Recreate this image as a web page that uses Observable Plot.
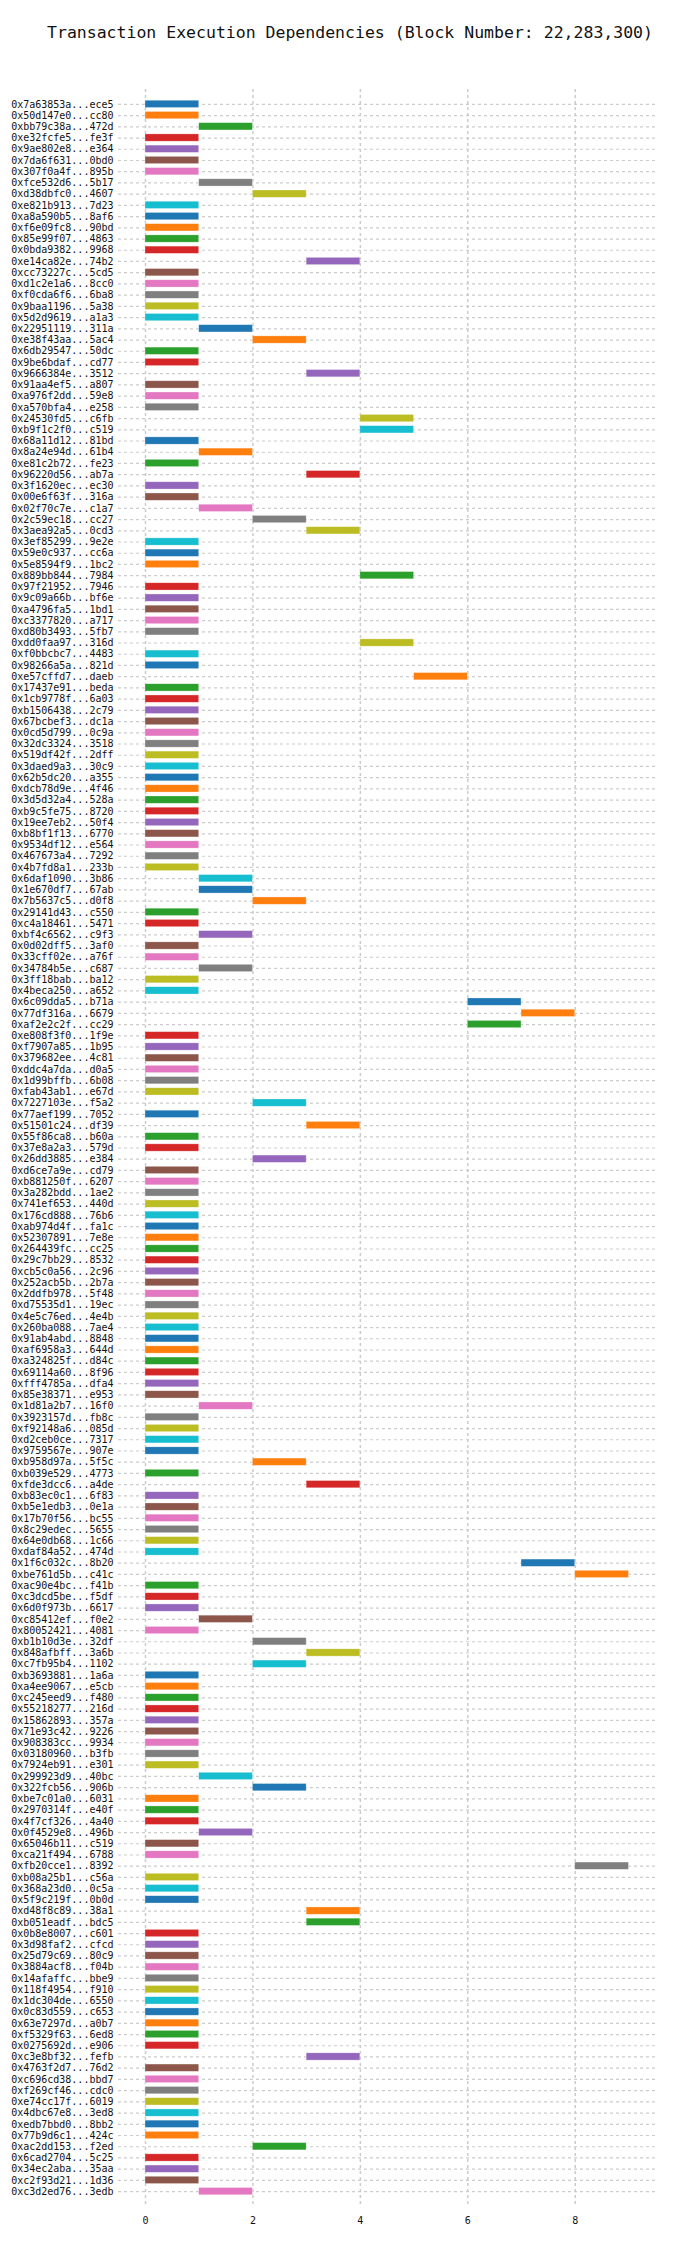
<!DOCTYPE html>
<html>
<head>
<meta charset="utf-8">
<script src="https://cdn.jsdelivr.net/npm/d3@7"></script>
<script src="https://cdn.jsdelivr.net/npm/@observablehq/plot@0.6"></script>
<style>
  body { margin: 0; background: #fff; }
  #title { height: 60px; line-height: 66px; text-align: center; font-family: "DejaVu Sans Mono", monospace; font-size: 16.5px; color: #111; }
</style>
</head>
<body>
<div id="title">Transaction Execution Dependencies (Block Number: 22,283,300)</div>
<div id="chart"></div>
<script>
// transaction hashes, top to bottom
const txs = [
  "0x7a63853a...ece5","0x50d147e0...cc80","0xbb79c38a...472d","0xe32fcfe5...fe3f","0x9ae802e8...e364","0x7da6f631...0bd0","0x307f0a4f...895b","0xfce532d6...5b17","0xd38dbfc0...4607","0xe821b913...7d23","0xa8a590b5...8af6","0xf6e09fc8...90bd","0x85e99f07...4863","0x0bda9382...9968",
  "0xe14ca82e...74b2","0xcc73227c...5cd5","0xd1c2e1a6...8cc0","0xf0cda6f6...6ba8","0x9baa1196...5a38","0x5d2d9619...a1a3","0x22951119...311a","0xe38f43aa...5ac4","0x6db29547...50dc","0x9be6bdaf...cd77","0x9666384e...3512","0x91aa4ef5...a807","0xa976f2dd...59e8","0xa570bfa4...e258","0x24530fd5...c6fb","0xb9f1c2f0...c519",
  "0x68a11d12...81bd","0x8a24e94d...61b4","0xe81c2b72...fe23","0x96220d56...ab7a","0x3f1620ec...ec30","0x00e6f63f...316a","0x02f70c7e...c1a7","0x2c59ec18...cc27","0x3aea92a5...0cd3","0x3ef85299...9e2e","0x59e0c937...cc6a","0x5e8594f9...1bc2","0x889bb844...7984","0x97f21952...7946","0x9c09a66b...bf6e","0xa4796fa5...1bd1","0xc3377820...a717",
  "0xd80b3493...5fb7","0xdd0faa97...316d","0xf0bbcbc7...4483","0x98266a5a...821d","0xe57cffd7...daeb","0x17437e91...beda","0x1cb9778f...6a03","0xb1506438...2c79","0x67bcbef3...dc1a","0x0cd5d799...0c9a","0x32dc3324...3518","0x519df42f...2dff","0x3daed9a3...30c9","0x62b5dc20...a355","0xdcb78d9e...4f46","0x3d5d32a4...528a",
  "0xb9c5fe75...8720","0x19ee7eb2...50f4","0xb8bf1f13...6770","0x9534df12...e564","0x467673a4...7292","0x4b7fd8a1...233b","0x6daf1090...3b86","0x1e670df7...67ab","0x7b5637c5...d0f8","0x29141d43...c550","0xc4a18461...5471","0xbf4c6562...c9f3","0x0d02dff5...3af0","0x33cff02e...a76f","0x34784b5e...c687","0x3ff18bab...ba12",
  "0x4beca250...a652","0x6c09dda5...b71a","0x77df316a...6679","0xaf2e2c2f...cc29","0xe808f3f0...1f9e","0xf7907a85...1b95","0x379682ee...4c81","0xddc4a7da...d0a5","0x1d99bffb...6b08","0xfab43ab1...e67d","0x7227103e...f5a2","0x77aef199...7052","0x51501c24...df39","0x55f86ca8...b60a","0x37e8a2a3...579d","0x26dd3885...e384","0xd6ce7a9e...cd79",
  "0xb881250f...6207","0x3a282bdd...1ae2","0x741ef653...440d","0x176cd888...76b6","0xab974d4f...fa1c","0x52307891...7e8e","0x264439fc...cc25","0x29c7bb29...8532","0xcb5c0a56...2c96","0x252acb5b...2b7a","0x2ddfb978...5f48","0xd75535d1...19ec","0x4e5c76ed...4e4b","0x260ba088...7ae4","0x91ab4abd...8848","0xaf6958a3...644d",
  "0xa324825f...d84c","0x69114a60...8f96","0xfff4785a...dfa4","0x85e38371...e953","0x1d81a2b7...16f0","0x3923157d...fb8c","0xf92148a6...085d","0xd2ceb0ce...7317","0x9759567e...907e","0xb958d97a...5f5c","0xb039e529...4773","0xfde3dcc6...a4de","0xb83ec0c1...6f83","0xb5e1edb3...0e1a","0x17b70f56...bc55","0x8c29edec...5655","0x64e0db68...1c66",
  "0xdaf84a52...474d","0x1f6c032c...8b20","0xbe761d5b...c41c","0xac90e4bc...f41b","0xc3dcd5be...f5df","0x6d0f973b...6617","0xc85412ef...f0e2","0x80052421...4081","0xb1b10d3e...32df","0x848afbff...3a6b","0xc7fb95b4...1102","0xb3693881...1a6a","0xa4ee9067...e5cb","0xc245eed9...f480","0x55218277...216d","0x15862893...357a",
  "0x71e93c42...9226","0x908383cc...9934","0x03180960...b3fb","0x7924eb91...e301","0x299923d9...40bc","0x322fcb56...906b","0xbe7c01a0...6031","0x2970314f...e40f","0x4f7cf326...4a40","0x0f4529e8...496b","0x65046b11...c519","0xca21f494...6788","0xfb20cce1...8392","0xb08a25b1...c56a","0x368a23d0...0c5a","0x5f9c219f...0b0d","0xd48f8c89...38a1",
  "0xb051eadf...bdc5","0x0b8e8007...c601","0x3d98faf2...cfcd","0x25d79c69...80c9","0x3884acf8...f04b","0x14afaffc...bbe9","0x118f4954...f910","0x1dc304de...6550","0x0c83d559...c653","0x63e7297d...a0b7","0xf5329f63...6ed8","0x0275692d...e906","0xc3e8bf32...fefb","0x4763f2d7...76d2","0xc696cd38...bbd7","0xf269cf46...cdc0",
  "0xe74cc17f...6019","0x4dbc67e8...3ed8","0xedb7bbd0...8bb2","0x77b9d6c1...424c","0xac2dd153...f2ed","0x6cad2704...5c25","0x34ec2aba...35aa","0xc2f93d21...1d36","0xc3d2ed76...3edb"
]

// execution start step of each transaction
const starts = [
  0,0,1,0,0,0,0,1,2,0,0,0,0,0,
  3,0,0,0,0,0,1,2,0,0,3,0,0,0,4,4,
  0,1,0,3,0,0,1,2,3,0,0,0,4,0,0,0,0,
  0,4,0,0,5,0,0,0,0,0,0,0,0,0,0,0,
  0,0,0,0,0,0,1,1,2,0,0,1,0,0,1,0,
  0,6,7,6,0,0,0,0,0,0,2,0,3,0,0,2,0,
  0,0,0,0,0,0,0,0,0,0,0,0,0,0,0,0,
  0,0,0,0,1,0,0,0,0,2,0,3,0,0,0,0,0,
  0,7,8,0,0,0,1,0,2,3,2,0,0,0,0,0,
  0,0,0,0,1,2,0,0,0,1,0,0,8,0,0,0,3,
  3,0,0,0,0,0,0,0,0,0,0,0,3,0,0,0,
  0,0,0,0,2,0,0,0,1
]

// execution end step of each transaction
const ends = [
  1,1,2,1,1,1,1,2,3,1,1,1,1,1,
  4,1,1,1,1,1,2,3,1,1,4,1,1,1,5,5,
  1,2,1,4,1,1,2,3,4,1,1,1,5,1,1,1,1,
  1,5,1,1,6,1,1,1,1,1,1,1,1,1,1,1,
  1,1,1,1,1,1,2,2,3,1,1,2,1,1,2,1,
  1,7,8,7,1,1,1,1,1,1,3,1,4,1,1,3,1,
  1,1,1,1,1,1,1,1,1,1,1,1,1,1,1,1,
  1,1,1,1,2,1,1,1,1,3,1,4,1,1,1,1,1,
  1,8,9,1,1,1,2,1,3,4,3,1,1,1,1,1,
  1,1,1,1,2,3,1,1,1,2,1,1,9,1,1,1,4,
  4,1,1,1,1,1,1,1,1,1,1,1,4,1,1,1,
  1,1,1,1,3,1,1,1,2
]

const xTicks = [0, 2, 4, 6, 8]

const rows = txs.map((tx, i) => ({tx, start: starts[i], end: ends[i]}))

const chart = Plot.plot({
  width: 700,
  height: 2184,
  marginTop: 29,
  marginBottom: 38,
  marginLeft: 145,
  marginRight: 42,
  style: {fontFamily: "DejaVu Sans Mono, monospace", fontSize: 10, color: "#111"},
  x: {domain: [0, 9.55], ticks: xTicks, label: null, tickSize: 0, tickPadding: 10},
  y: {domain: txs, label: null, tickSize: 0, tickPadding: 32, paddingInner: 0.35, paddingOuter: 1},
  color: {domain: txs, range: d3.schemeCategory10},
  marks: [
    Plot.ruleY(txs, {y: d => d, stroke: "#ccc", strokeWidth: 1.2, strokeDasharray: "3,3", insetLeft: -27}),
    Plot.gridX({ticks: xTicks, stroke: "#ccc", strokeOpacity: 1, strokeWidth: 1.5, strokeDasharray: "3,3"}),
    Plot.barX(rows, {x1: "start", x2: "end", y: "tx", fill: "tx", stroke: "white", strokeOpacity: 0.5, strokeWidth: 0.6})
  ]
})
d3.select("#chart").append(() => chart)
</script>
</body>
</html>
